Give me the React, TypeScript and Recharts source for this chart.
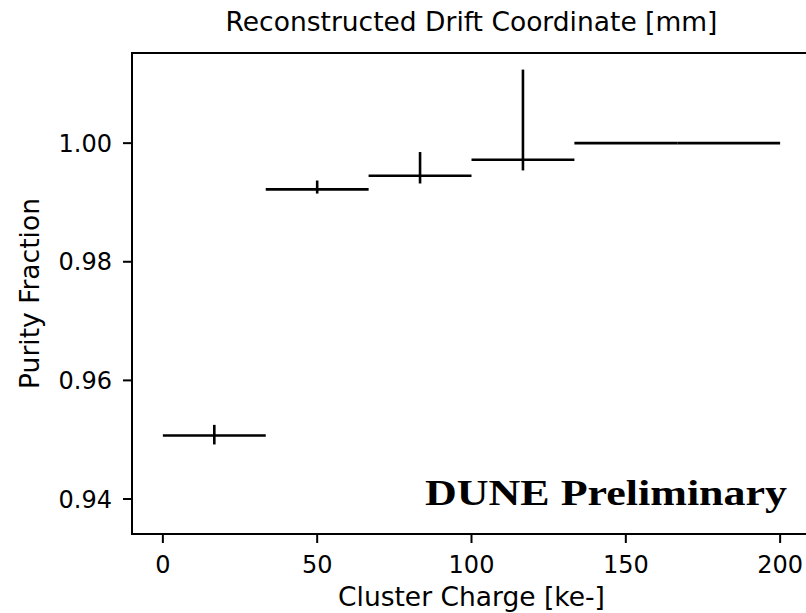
import {
  ComposedChart,
  Scatter,
  ErrorBar,
  XAxis,
  YAxis,
  ReferenceArea,
} from "recharts";

// bin centres (ke-), bin half widths, purity and asymmetric errors
const binCenters = [16.67, 50, 83.33, 116.67, 150, 183.33];
const binHalfWidths = [16.67, 16.67, 16.67, 16.67, 16.67, 16.67];
const purity = [0.9507, 0.9922, 0.9945, 0.9972, 1.0, 1.0];
const errLow = [0.0015, 0.0007, 0.0013, 0.0018, 0, 0];
const errHigh = [0.0018, 0.0015, 0.004, 0.0152, 0, 0];

const xTicks = [0, 50, 100, 150, 200];
const yTicks = [0.94, 0.96, 0.98, 1.0];
const xDomain: [number, number] = [-10, 210];
const yDomain: [number, number] = [0.9341, 1.0152];

const font = "'DejaVu Sans', sans-serif";

const points = binCenters.map((x, i) => ({
  x,
  y: purity[i],
  xerr: binHalfWidths[i],
  yerr: [errLow[i], errHigh[i]],
}));

const noMarker = () => <g />;

export default function App() {
  return (
    <div
      style={{
        position: "absolute",
        left: 0,
        top: 0,
        width: 806,
        height: 613,
        overflow: "hidden",
        background: "white",
      }}
    >
      <div
        style={{
          position: "absolute",
          left: 132,
          width: 679,
          top: 9,
          textAlign: "center",
          fontFamily: font,
          fontSize: 26.5,
          lineHeight: 1,
          color: "#000",
          whiteSpace: "nowrap",
        }}
      >
        Reconstructed Drift Coordinate [mm]
      </div>

      <ComposedChart
        width={830}
        height={613}
        data={points}
        margin={{ top: 53, right: 19, bottom: 0, left: 0 }}
      >
        <XAxis
          type="number"
          dataKey="x"
          domain={xDomain}
          ticks={xTicks}
          allowDataOverflow
          height={79}
          tickSize={9}
          tickMargin={13}
          axisLine={{ stroke: "#000", strokeWidth: 2 }}
          tickLine={{ stroke: "#000", strokeWidth: 2 }}
          tick={{ fill: "#000", fontSize: 24, fontFamily: font }}
          label={{
            value: "Cluster Charge [ke-]",
            position: "insideBottom",
            offset: 7,
            style: { fill: "#000", fontSize: 26.5, fontFamily: font },
          }}
        />
        <YAxis
          type="number"
          domain={yDomain}
          ticks={yTicks}
          allowDataOverflow
          width={132}
          tickSize={9}
          tickMargin={11}
          tickFormatter={(v: number) => v.toFixed(2)}
          axisLine={{ stroke: "#000", strokeWidth: 2 }}
          tickLine={{ stroke: "#000", strokeWidth: 2 }}
          tick={{ fill: "#000", fontSize: 24, fontFamily: font }}
          label={{
            value: "Purity Fraction",
            angle: -90,
            position: "insideLeft",
            offset: 30,
            style: {
              fill: "#000",
              fontSize: 26.5,
              fontFamily: font,
              textAnchor: "middle",
            },
          }}
        />
        <ReferenceArea
          x1={xDomain[0]}
          x2={xDomain[1]}
          y1={yDomain[0]}
          y2={yDomain[1]}
          fill="none"
          stroke="#000"
          strokeWidth={2}
          ifOverflow="visible"
        />
        <Scatter dataKey="y" shape={noMarker} isAnimationActive={false}>
          <ErrorBar
            dataKey="xerr"
            direction="x"
            width={0}
            stroke="#000"
            strokeWidth={2.6}
            isAnimationActive={false}
          />
          <ErrorBar
            dataKey="yerr"
            direction="y"
            width={0}
            stroke="#000"
            strokeWidth={2.6}
            isAnimationActive={false}
          />
        </Scatter>
      </ComposedChart>

      <div
        style={{
          position: "absolute",
          left: 425,
          top: 476,
          fontFamily: "'Liberation Serif', serif",
          fontWeight: "bold",
          fontSize: 35,
          lineHeight: 1,
          color: "#000",
          whiteSpace: "nowrap",
          transform: "scaleX(1.257)",
          transformOrigin: "left top",
        }}
      >
        DUNE Preliminary
      </div>
    </div>
  );
}
